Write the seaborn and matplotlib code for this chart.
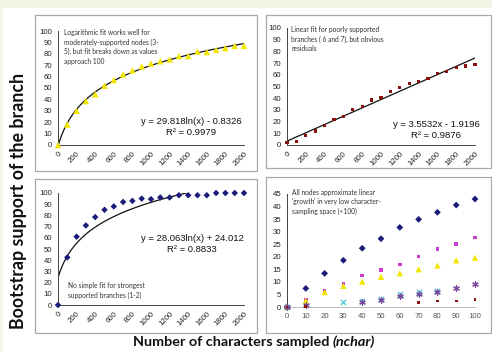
import numpy as np
import pandas as pd
import matplotlib
matplotlib.use("Agg")
import matplotlib.pyplot as plt
import seaborn as sns
from matplotlib.patches import Rectangle

# ---- data ----
# large sampling range (0..2000 characters, step 100)
nchar = list(range(0, 2001, 100))
cat_index = list(range(1, 22))          # Excel category index used by the trendlines
nchar_labels = [str(v) if v % 200 == 0 else "" for v in nchar]

moderate = [0, 18, 30, 38.5, 44.5, 52, 57, 62, 65.5, 69, 71.5, 73.5, 75, 78, 78, 82, 81.5, 83.5, 85, 87, 87]
poor = [2, 3, 8.5, 12, 16.5, 22, 24.5, 30, 33, 38.5, 40.5, 46, 49.5, 52.5, 54, 57, 61, 63, 66, 67.5, 69]
strong = [0, 42.5, 61, 71, 78.5, 85, 88, 92, 93, 95, 94.5, 96, 96, 98, 98, 98, 98, 100, 100, 100, 100]

# low sampling range (0..100 characters)
low_nchar = [0, 10, 20, 30, 40, 50, 60, 70, 80, 90, 100]
low_navy = [0, 7.4, 13.4, 18.6, 23.4, 27.2, 31.7, 34.9, 37.7, 40.6, 43]
low_magenta = [0, 3.1, 6.4, 9.3, 12.5, 14.7, 17, 20, 23.1, 25.1, 27.6]
low_yellow = [0, 2.5, 5.9, 8.4, 10.1, 12, 13.4, 15, 16.5, 18.6, 19.6]
low_cyan = [0, np.nan, np.nan, 2.1, 2.4, 3.2, 5, 5.9, 6.4, np.nan, np.nan]
low_purple = [0, 0.8, np.nan, np.nan, 2.1, 2.8, 4.5, 5.3, 5.9, 7.7, 9]
low_darkred = [0, 0.3, np.nan, np.nan, np.nan, np.nan, np.nan, 1.9, 2.4, 2.4, 2.9]

eq_log_moderate = "y = 29.818ln(x) - 0.8326\nR² = 0.9979"
eq_lin_poor = "y = 3.5532x - 1.9196\nR² = 0.9876"
eq_log_strong = "y = 28.063ln(x) + 24.012\nR² = 0.8833"

note_tl = "Logarithmic fit works well for\nmoderately-supported nodes (3-\n5), but fit breaks down as values\napproach 100"
note_tr = "Linear fit for poorly supported\nbranches ( 6 and 7), but obvious\nresiduals"
note_bl = "No simple fit for strongest\nsupported branches (1-2)"
note_br = "All nodes approximate linear\n'growth' in very low character-\nsampling space (<100)"

YELLOW = "#f2e600"
NAVY = "#1b1b7a"
DARKRED = "#8b1010"
MAGENTA = "#cc3ccc"
CYAN = "#45c8d8"
PURPLE = "#7a4a9a"

sns.set_style("white")
plt.rcParams['font.family'] = ['Liberation Sans', 'DejaVu Sans']

W, H = 492, 352
fig = plt.figure(figsize=(W / 100, H / 100), dpi=100)
fig.patch.set_facecolor("#f3f3e6")


def fx(px):
    return px / W


def fy(py):
    return 1 - py / H


def axes_px(left, top, right, bottom):
    return fig.add_axes([fx(left), fy(bottom), fx(right) - fx(left), (bottom - top) / H])


# white card and panel frames
fig.add_artist(Rectangle((fx(3), 0), 1, fy(8), transform=fig.transFigure,
                         facecolor="white", edgecolor="none", zorder=-5))
for (l, t, r, b) in [(35, 15, 257, 171), (266, 15, 491, 168), (35, 179, 257, 333), (266, 177, 491, 333)]:
    fig.add_artist(Rectangle((fx(l), fy(b)), fx(r) - fx(l), (b - t) / H, transform=fig.transFigure,
                             fill=False, edgecolor="#a8a8a8", lw=0.9))


def style_axis(ax, rotate=True):
    sns.despine(ax=ax)
    ax.set_facecolor("none")
    for s in ["left", "bottom"]:
        ax.spines[s].set_linewidth(0.7)
        ax.spines[s].set_color("#444444")
    ax.tick_params(axis="both", length=2.5, width=0.6, color="#444444",
                   labelsize=5.6, pad=1.5, labelcolor="#222222")
    ax.set_xlabel("")
    ax.set_ylabel("")
    if rotate:
        for lab in ax.get_xticklabels():
            lab.set_rotation(45)
            lab.set_ha("right")
            lab.set_rotation_mode("anchor")


def big_panel(ax, values, marker, color, size, logx):
    df = pd.DataFrame({"idx": cat_index, "support": values})
    sns.regplot(data=df, x="idx", y="support", logx=logx, ci=None, scatter=False,
                color="black", line_kws={"lw": 0.9, "color": "#111111"}, ax=ax)
    sns.scatterplot(data=df, x="idx", y="support", marker=marker, color=color, s=size,
                    edgecolor="none", clip_on=False, zorder=3, ax=ax)
    ax.set_xlim(1, 21)
    ax.set_ylim(0, 100)
    ax.set_yticks(range(0, 101, 10))
    ax.set_xticks(cat_index)
    ax.set_xticklabels(nchar_labels)
    style_axis(ax)


# top left: moderately supported nodes
ax1 = axes_px(58, 31, 244, 145)
big_panel(ax1, moderate, "^", YELLOW, 22, True)

# top right: poorly supported nodes
ax2 = axes_px(287, 28, 475, 145)
big_panel(ax2, poor, "s", DARKRED, 5, False)

# bottom left: strongly supported nodes
ax3 = axes_px(58, 193, 244, 305)
big_panel(ax3, strong, "D", NAVY, 11, True)

# bottom right: low sampling space
ax4 = axes_px(287, 194, 475, 307)
low_series = [
    (low_navy, "D", NAVY, 12),
    (low_magenta, "s", MAGENTA, 6),
    (low_yellow, "^", YELLOW, 20),
    (low_cyan, "x", CYAN, 14),
    (low_purple, (6, 2, 0), PURPLE, 16),
    (low_darkred, "s", DARKRED, 4),
]
for vals, mk, col, sz in low_series:
    d = pd.DataFrame({"n": low_nchar, "support": vals}).dropna()
    if mk in ("x", (6, 2, 0)):
        sns.scatterplot(data=d, x="n", y="support", marker=mk, color=col, s=sz,
                        linewidth=0.9, clip_on=False, zorder=3, ax=ax4)
    else:
        sns.scatterplot(data=d, x="n", y="support", marker=mk, color=col, s=sz,
                        edgecolor="none", clip_on=False, zorder=3, ax=ax4)
ax4.set_xlim(0, 100)
ax4.set_ylim(0, 45)
ax4.set_xticks(low_nchar)
ax4.set_yticks(range(0, 46, 5))
style_axis(ax4, rotate=False)
ax4.spines["bottom"].set_color("#bbbbbb")
ax4.tick_params(axis="x", length=0, pad=4, labelcolor="#555555")

# equations
for (x, y, txt) in [(191, 127, eq_log_moderate), (436, 130, eq_lin_poor), (192, 244, eq_log_strong)]:
    fig.text(fx(x), fy(y), txt, ha="center", va="center", fontsize=6.8,
             color="#111111", linespacing=1.15)

# notes
note_font = ['Lato', 'DejaVu Sans']
for (x, y, txt) in [(64, 29, note_tl), (291, 26, note_tr), (68, 282, note_bl), (292, 189, note_br)]:
    fig.text(fx(x), fy(y), txt, ha="left", va="top", fontsize=4.8, family=note_font,
             color="#333333", linespacing=1.4)

# shared axis titles
title_font = ['Lato', 'DejaVu Sans']
fig.text(fx(19), fy(201), "Bootstrap support of the branch", rotation=90, ha="center", va="center",
         fontsize=12.8, fontweight="bold", family=title_font, color="#111111")
t1 = fig.text(0, fy(342), "Number of characters sampled ", ha="left", va="center",
              fontsize=10.4, fontweight="bold", family=title_font, color="#111111")
t2 = fig.text(0, fy(342), "(nchar)", ha="left", va="center", fontsize=10.4, fontweight="bold",
              style="italic", family=title_font, color="#111111")
renderer = fig.canvas.get_renderer()
w1 = t1.get_window_extent(renderer).width
w2 = t2.get_window_extent(renderer).width
start = 254 - (w1 + w2) / 2
t1.set_x(fx(start))
t2.set_x(fx(start + w1))

fig.savefig("out.png", dpi=100, facecolor=fig.get_facecolor())
